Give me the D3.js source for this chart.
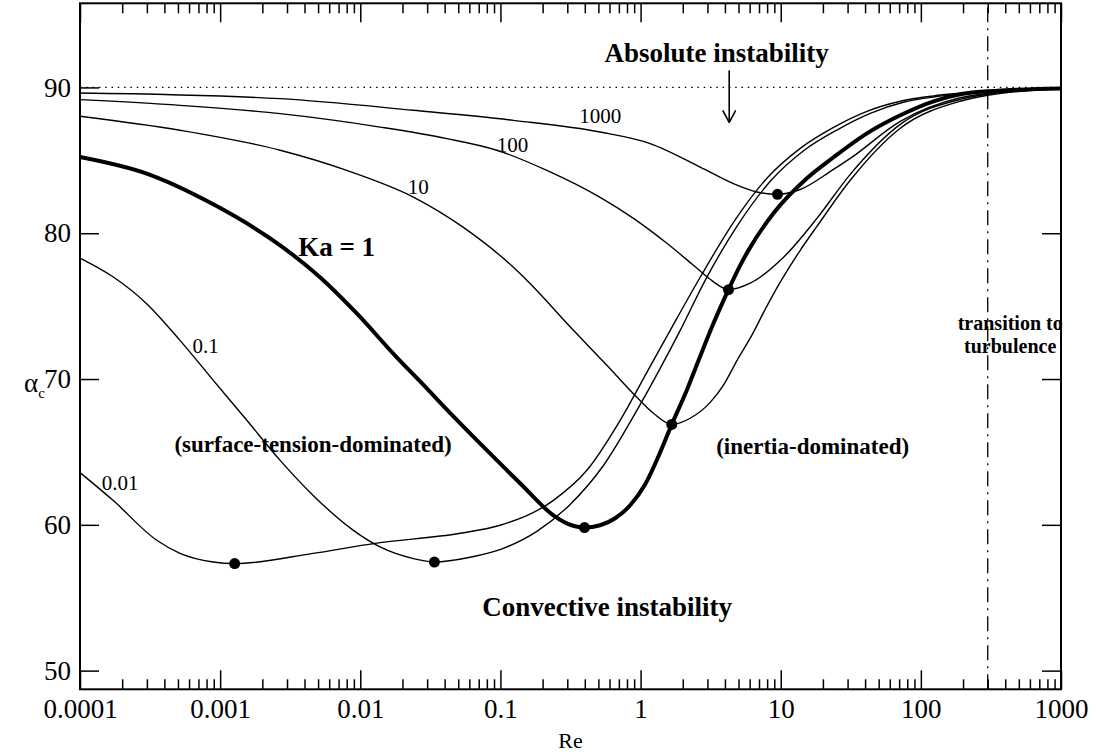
<html>
<script src="https://d3js.org/d3.v7.min.js"></script>
<head>
<style>
body {margin: 0; background: #fff;}
text {font-family: "Liberation Serif", "Times New Roman", serif; fill: #000;}
.curve {fill: none; stroke: #000; stroke-width: 1.4px;}
.thick {stroke-width: 4px;}
.lbl {font-size: 21px;}
.bold {font-weight: bold; font-size: 27px;}
.paren {font-weight: bold; font-size: 23px;}
</style>
</head>
<body>
<div id="chart"></div>
<script>
// [Re, alpha_c]
var ka001 = [[1e-4,63.58],[1.72e-4,61.68],[3.53e-4,58.94],[5.17e-4,58.04],[8.9e-4,57.45],[1.27e-3,57.34],[4.6e-3,58.04],[0.01275,58.73],[0.0516,59.42],[0.0995,59.97],[0.2389,61.68],[0.4137,63.74],[0.7152,67.17],[1.109,70.46],[1.627,73.34],[2.663,76.98],[4.603,80.75],[7.97,83.77],[13.78,85.82],[23.82,87.26],[41.24,88.36],[71.29,89.05],[123.2,89.42],[300,89.73],[1000,89.92]];
var ka01 = [[1e-4,78.3],[1.73e-4,77.0],[2.99e-4,75.17],[5.17e-4,72.65],[8.94e-4,69.91],[1.55e-3,67.17],[2.68e-3,64.42],[4.63e-3,62.0],[8.93e-3,59.62],[0.01384,58.48],[0.02393,57.68],[0.0338,57.45],[0.0608,57.78],[0.105,58.39],[0.1819,59.55],[0.3145,61.4],[0.5434,64.07],[0.941,67.85],[1.38,70.73],[1.918,73.34],[2.891,76.77],[4.973,80.61],[8.55,83.63],[14.72,85.69],[25.73,87.13],[43.55,88.22],[74.89,88.98],[126.7,89.36],[300,89.7],[1000,89.92]];
var ka1 = [[1e-4,85.23],[2.99e-4,84.09],[8.94e-4,81.98],[2.68e-3,79.17],[5.16e-3,76.98],[9.44e-3,74.5],[0.0182,71.49],[0.02672,69.84],[0.04618,67.44],[0.0799,65.12],[0.1382,62.85],[0.2389,60.65],[0.2978,60.1],[0.398,59.81],[0.5147,59.97],[0.6588,60.45],[0.8428,61.34],[1.079,62.78],[1.38,64.97],[1.67,66.89],[2.141,69.25],[2.663,71.56],[3.314,73.82],[4.24,76.13],[5.139,77.8],[6.058,79.03],[8.884,81.37],[15.38,83.77],[23.82,85.21],[41.24,86.85],[71.29,88.09],[123.2,89.05],[191.1,89.53],[300,89.73],[1000,89.92]];
var ka10 = [[1e-4,88.02],[5.17e-4,87.06],[2.68e-3,85.69],[8.01e-3,84.31],[0.02393,82.48],[0.0544,80.4],[0.1238,77.66],[0.1543,76.77],[0.332,73.34],[0.5746,70.94],[0.941,68.75],[1.236,67.65],[1.67,66.89],[2.259,67.31],[3.139,68.4],[3.905,69.58],[4.893,71.3],[6.058,72.8],[7.97,75.0],[9.92,76.64],[13.78,78.83],[18.13,80.47],[31.34,83.63],[71.29,87.2],[191.1,89.05],[300,89.46],[1000,89.9]];
var ka100 = [[1e-4,89.16],[5.17e-4,88.77],[2.68e-3,88.2],[0.01384,87.28],[0.04145,86.49],[0.0943,85.69],[0.2144,84.31],[0.5147,82.46],[0.8898,81.02],[1.541,79.31],[2.386,77.8],[3.139,76.84],[3.7,76.36],[4.24,76.13],[6.058,76.57],[10.47,78.35],[18.13,81.02],[31.34,84.04],[71.29,87.47],[191.1,89.18],[300,89.53],[1000,89.9]];
var ka1000 = [[1e-4,89.62],[2.68e-3,89.23],[0.02393,88.43],[0.1238,87.74],[0.5147,86.94],[1.171,86.15],[2.663,84.54],[4.603,83.4],[6.763,82.83],[9.49,82.67],[13.78,83.0],[23.82,84.38],[31.34,85.13],[71.29,87.67],[191.1,89.29],[300,89.6],[1000,89.92]];

var minima = [[0.00127,57.34],[0.0338,57.45],[0.398,59.81],[1.67,66.89],[4.24,76.13],[9.49,82.67]];

var xTicks = [1e-4,1e-3,1e-2,0.1,1,10,100,1000];
var xTickLabels = ["0.0001","0.001","0.01","0.1","1","10","100","1000"];
var yTicks = [50,60,70,80,90];

// text labels [text, Re, alpha]
var curveLabels = [["1000",0.515,87.54],["100",0.122,85.57],["10",0.0259,82.72],["0.1",7.87e-4,71.76],["0.01",1.93e-4,62.37]];
var boldLabels = [["Ka = 1",6.78e-3,78.44],["Absolute instability",3.49,91.72],["Convective instability",0.578,53.72]];
var parenLabels = [["(surface-tension-dominated)",4.6e-3,64.97],["(inertia-dominated)",16.9,64.83]];
var turbLabels = [["transition to",434,73.33],["turbulence",434,71.76]];
var arrowRe = 4.29, arrowFrom = 91.17, arrowTo = 87.6;
var turbRe = 300;

var width = 1096, height = 754;
var x = d3.scaleLog().domain([1e-4,1e3]).range([80,1061]);
var y = d3.scaleLinear().domain([48.72,95.77]).range([689.3,3.3]);

var svg = d3.select("#chart").append("svg")
    .attr("width", width)
    .attr("height", height);

svg.append("defs").append("marker")
    .attr("id","arrow")
    .attr("viewBox","0 0 14 14")
    .attr("refX",7).attr("refY",13)
    .attr("markerWidth",14).attr("markerHeight",14)
    .attr("markerUnits","userSpaceOnUse")
    .attr("orient","0")
    .append("path")
    .attr("d","M 0.5 1 L 7 13 L 13.5 1")
    .attr("fill","none").attr("stroke","black").attr("stroke-width",1.6);

// reference lines
svg.append("line")
    .attr("x1", x(1e-4)).attr("x2", x(1e3))
    .attr("y1", y(90)).attr("y2", y(90))
    .attr("stroke","black").attr("stroke-width",1.2)
    .attr("stroke-dasharray","1.5,4.8");
svg.append("line")
    .attr("x1", x(turbRe)).attr("x2", x(turbRe))
    .attr("y1", y.range()[0]).attr("y2", y.range()[1])
    .attr("stroke","black").attr("stroke-width",1.3)
    .attr("stroke-dasharray","15,6,2,6");

var line = d3.line()
    .x(d => x(d[0]))
    .y(d => y(d[1]))
    .curve(d3.curveMonotoneX);

var curves = [ka001, ka01, ka10, ka100, ka1000];
svg.selectAll(".thin")
    .data(curves)
    .enter()
    .append("path")
    .attr("class","curve thin")
    .attr("d", line);
svg.append("path")
    .datum(ka1)
    .attr("class","curve thick")
    .attr("d", line);

svg.selectAll(".dot")
    .data(minima)
    .enter()
    .append("circle")
    .attr("class","dot")
    .attr("cx", d => x(d[0]))
    .attr("cy", d => y(d[1]))
    .attr("r", 5.5)
    .attr("fill","black");

// axes with inward ticks on all four sides
var minor = x.ticks().filter(t => xTicks.indexOf(t) < 0);
function strip(g) {
    g.select(".domain").remove();
    g.selectAll("line").attr("stroke","black").attr("stroke-width",1.5);
}
svg.append("g")
    .attr("transform","translate(0,"+y.range()[0]+")")
    .call(d3.axisBottom(x).tickValues(xTicks).tickSize(-19).tickPadding(10).tickFormat((d,i) => xTickLabels[i]))
    .call(strip)
    .selectAll("text").attr("font-size",27).attr("font-family","Liberation Serif");
svg.append("g")
    .attr("transform","translate(0,"+y.range()[0]+")")
    .call(d3.axisBottom(x).tickValues(minor).tickSize(-10).tickFormat(""))
    .call(strip);
svg.append("g")
    .attr("transform","translate(0,"+y.range()[1]+")")
    .call(d3.axisTop(x).tickValues(xTicks).tickSize(-19).tickFormat(""))
    .call(strip);
svg.append("g")
    .attr("transform","translate(0,"+y.range()[1]+")")
    .call(d3.axisTop(x).tickValues(minor).tickSize(-10).tickFormat(""))
    .call(strip);
svg.append("g")
    .attr("transform","translate("+x.range()[0]+",0)")
    .call(d3.axisLeft(y).tickValues(yTicks).tickSize(-19).tickPadding(9))
    .call(strip)
    .selectAll("text").attr("font-size",27).attr("font-family","Liberation Serif");
svg.append("g")
    .attr("transform","translate("+x.range()[1]+",0)")
    .call(d3.axisRight(y).tickValues(yTicks).tickSize(-19).tickFormat(""))
    .call(strip);

svg.append("rect")
    .attr("x", x.range()[0]).attr("y", y.range()[1])
    .attr("width", x.range()[1]-x.range()[0])
    .attr("height", y.range()[0]-y.range()[1])
    .attr("fill","none").attr("stroke","black").attr("stroke-width",2);

// labels
svg.selectAll(".lbl")
    .data(curveLabels).enter().append("text")
    .attr("class","lbl").attr("text-anchor","middle")
    .attr("x", d => x(d[1])).attr("y", d => y(d[2]))
    .text(d => d[0]);
svg.selectAll(".bold")
    .data(boldLabels).enter().append("text")
    .attr("class","bold").attr("text-anchor","middle")
    .attr("x", d => x(d[1])).attr("y", d => y(d[2]))
    .text(d => d[0]);
svg.selectAll(".paren")
    .data(parenLabels).enter().append("text")
    .attr("class","paren").attr("text-anchor","middle")
    .attr("x", d => x(d[1])).attr("y", d => y(d[2]))
    .text(d => d[0]);
svg.selectAll(".turb")
    .data(turbLabels).enter().append("text")
    .attr("class","turb").attr("text-anchor","middle")
    .attr("font-weight","bold").attr("font-size",20)
    .attr("x", d => x(d[1])).attr("y", d => y(d[2]))
    .text(d => d[0]);

svg.append("line")
    .attr("x1", x(arrowRe)).attr("x2", x(arrowRe))
    .attr("y1", y(arrowFrom)).attr("y2", y(arrowTo))
    .attr("stroke","black").attr("stroke-width",1.6)
    .attr("marker-end","url(#arrow)");

svg.append("text")
    .attr("x", (x.range()[0]+x.range()[1])/2)
    .attr("y", 748)
    .attr("text-anchor","middle")
    .attr("font-size",22)
    .text("Re");

var al = svg.append("text")
    .attr("x", 24).attr("y", 392)
    .attr("font-size",27);
al.append("tspan").text("α");
al.append("tspan").attr("font-size",15).attr("dy",6).text("c");
</script>
</body>
</html>
